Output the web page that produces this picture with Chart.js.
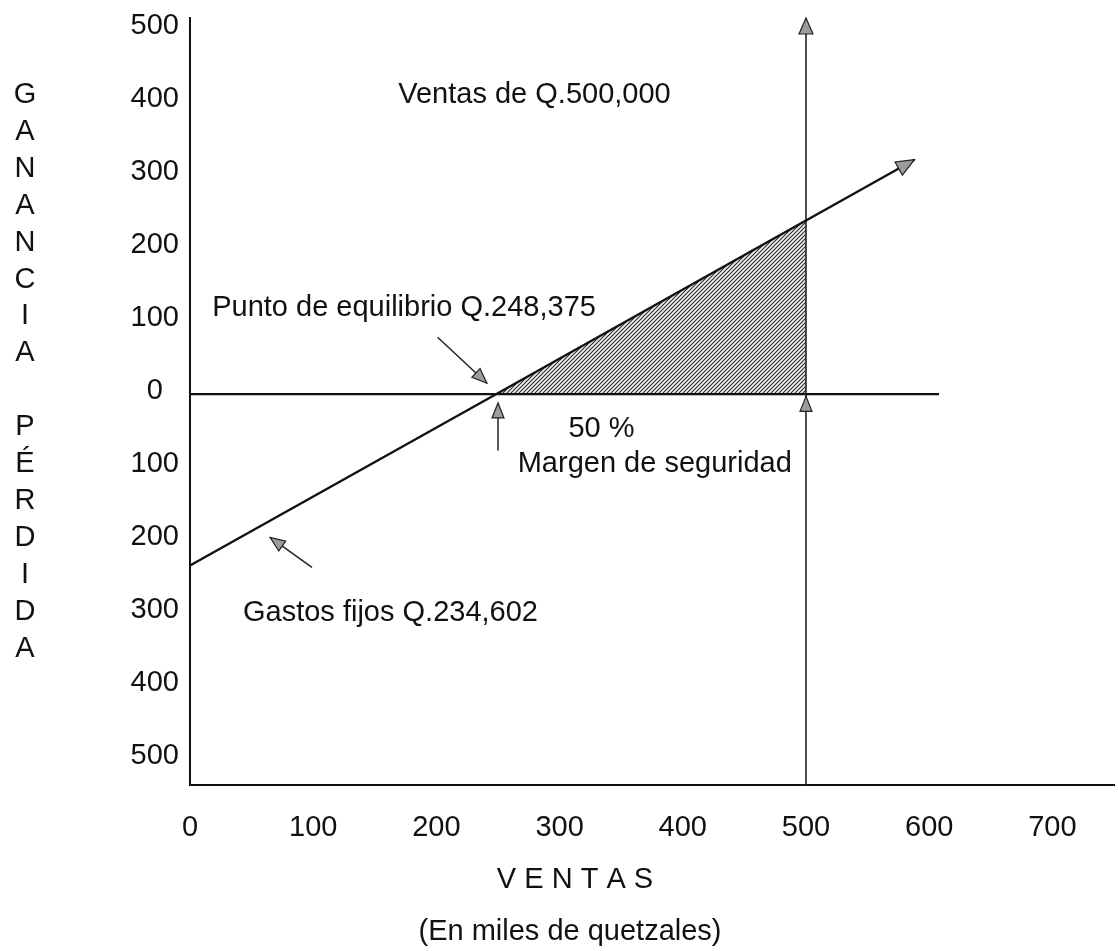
<!DOCTYPE html>
<html lang="es">
<head>
<meta charset="utf-8">
<title>Punto de equilibrio</title>
<script src="https://cdn.jsdelivr.net/npm/chart.js@4.4.1/dist/chart.umd.min.js"></script>
<style>
  html, body { margin: 0; padding: 0; background: #fff; }
  .chart-box { position: relative; width: 1118px; height: 951px; }
</style>
</head>
<body>
<div class="chart-box"><canvas id="breakEvenChart"></canvas></div>
<script>
// Valores en miles de quetzales
const xTicks = [0, 100, 200, 300, 400, 500, 600, 700];
const yTicks = [500, 400, 300, 200, 100, 0, -100, -200, -300, -400, -500];

// Recta de ganancia / pérdida
const salesX = [0, 248.375, 500, 588];
const profitY = [-234.602, 0, 237.7, 321];

// Zona sombreada: margen de seguridad
const marginX = [248.375, 500];
const marginY = [0, 237.7];

// Línea de cero y línea de ventas de Q.500,000
const zeroX = [0, 608];
const salesLineX = 500;
const salesLineY = [-535, 515];

const FONT = "'Liberation Sans', Arial, sans-serif";
const INK = '#111';

// Textos y flechas, en unidades de los ejes
const notes = [
  { text: 'Ventas de Q.500,000', x: 169, y: 410, align: 'left' },
  { text: 'Punto de equilibrio Q.248,375', x: 18, y: 118, align: 'left' },
  { text: '50 %', x: 334, y: -47, align: 'center' },
  { text: 'Margen de seguridad', x: 266, y: -95, align: 'left' },
  { text: 'Gastos fijos Q.234,602', x: 43, y: -299, align: 'left' }
];
const pointers = [
  { from: [201, 78], to: [241, 15] },
  { from: [250, -77], to: [250, -12] },
  { from: [99, -237], to: [65, -196] }
];

function toPoints(xs, ys) {
  return xs.map((x, i) => ({ x: x, y: ys[i] }));
}

function hatchPattern() {
  const c = document.createElement('canvas');
  c.width = 4;
  c.height = 4;
  const g = c.getContext('2d');
  g.fillStyle = '#f4f4f4';
  g.fillRect(0, 0, 4, 4);
  g.strokeStyle = '#2e2e2e';
  g.lineWidth = 1.2;
  g.beginPath();
  g.moveTo(-1, 5); g.lineTo(5, -1);
  g.moveTo(-1, 1); g.lineTo(1, -1);
  g.moveTo(3, 5); g.lineTo(5, 3);
  g.stroke();
  return g.createPattern(c, 'repeat');
}

function arrowHead(ctx, x1, y1, x2, y2, len, half) {
  const a = Math.atan2(y2 - y1, x2 - x1);
  ctx.save();
  ctx.translate(x2, y2);
  ctx.rotate(a);
  ctx.beginPath();
  ctx.moveTo(0, 0);
  ctx.lineTo(-len, -half);
  ctx.lineTo(-len, half);
  ctx.closePath();
  ctx.fillStyle = '#9c9c9c';
  ctx.fill();
  ctx.strokeStyle = '#222';
  ctx.lineWidth = 1.2;
  ctx.stroke();
  ctx.restore();
}

const annotations = {
  id: 'annotations',
  afterDatasetsDraw(chart) {
    const { ctx, scales: { x, y } } = chart;
    const px = v => x.getPixelForValue(v);
    const py = v => y.getPixelForValue(v);

    // puntas de flecha de la recta y de la línea de ventas
    const n = salesX.length - 1;
    arrowHead(ctx, px(salesX[n - 1]), py(profitY[n - 1]), px(salesX[n]), py(profitY[n]), 18, 7.5);
    arrowHead(ctx, px(salesLineX), py(0), px(salesLineX), py(salesLineY[1]), 16, 7);
    arrowHead(ctx, px(salesLineX), py(-40), px(salesLineX), py(-3), 15, 6);

    // flechas indicadoras
    pointers.forEach(p => {
      const x1 = px(p.from[0]), y1 = py(p.from[1]);
      const x2 = px(p.to[0]), y2 = py(p.to[1]);
      ctx.save();
      ctx.strokeStyle = '#222';
      ctx.lineWidth = 1.5;
      ctx.beginPath();
      ctx.moveTo(x1, y1);
      ctx.lineTo(x2, y2);
      ctx.stroke();
      ctx.restore();
      arrowHead(ctx, x1, y1, x2, y2, 15, 6);
    });

    ctx.save();
    ctx.fillStyle = INK;
    ctx.font = '29px ' + FONT;
    ctx.textBaseline = 'middle';
    notes.forEach(t => {
      ctx.textAlign = t.align;
      ctx.fillText(t.text, px(t.x), py(t.y));
    });
    ctx.restore();
  },
  afterDraw(chart) {
    const ctx = chart.ctx;
    ctx.save();
    ctx.fillStyle = INK;
    ctx.font = '29px ' + FONT;
    ctx.textAlign = 'center';
    ctx.textBaseline = 'middle';
    // título vertical del eje y
    const letters = 'GANANCIA PÉRDIDA'.split('');
    letters.forEach((ch, i) => {
      if (ch !== ' ') ctx.fillText(ch, 25, 95 + i * 36.9);
    });
    // título del eje x
    ctx.fillText('V E N T A S', 575, 880);
    ctx.fillText('(En miles de quetzales)', 570, 932);
    ctx.restore();
  }
};

document.addEventListener('DOMContentLoaded', function() {
  const ctx = document.getElementById('breakEvenChart').getContext('2d');
  new Chart(ctx, {
    type: 'line',
    data: {
      datasets: [{
        label: 'Margen de seguridad',
        data: toPoints(marginX, marginY),
        borderWidth: 0,
        backgroundColor: hatchPattern(),
        fill: 'origin',
        order: 3
      }, {
        label: 'Cero',
        data: toPoints(zeroX, [0, 0]),
        borderColor: INK,
        borderWidth: 2.2,
        order: 2
      }, {
        label: 'Ventas de Q.500,000',
        data: toPoints([salesLineX, salesLineX], salesLineY),
        borderColor: '#222',
        borderWidth: 1.6,
        order: 1
      }, {
        label: 'Ganancia / pérdida',
        data: toPoints(salesX, profitY),
        borderColor: INK,
        borderWidth: 2.4,
        order: 0
      }]
    },
    options: {
      responsive: true,
      maintainAspectRatio: false,
      animation: false,
      devicePixelRatio: 1,
      layout: { padding: { top: 18, right: 4, left: 0, bottom: 0 } },
      plugins: {
        legend: { display: false },
        tooltip: { enabled: false }
      },
      elements: {
        point: { radius: 0 },
        line: { tension: 0 }
      },
      datasets: { line: { clip: false } },
      scales: {
        x: {
          type: 'linear',
          min: 0,
          max: 750,
          grid: { display: false, drawTicks: false },
          border: { display: true, color: INK, width: 2 },
          ticks: {
            color: INK,
            padding: 26,
            maxRotation: 0,
            font: { family: FONT, size: 29 }
          },
          afterBuildTicks: s => { s.ticks = xTicks.map(v => ({ value: v })); },
          afterFit: s => { s.height = 166; s.paddingLeft = 0; s.paddingRight = 0; }
        },
        y: {
          type: 'linear',
          min: -535,
          max: 515,
          grid: { display: false, drawTicks: false },
          border: { display: true, color: INK, width: 2 },
          ticks: {
            color: INK,
            padding: 11,
            crossAlign: 'center',
            labelOffset: -3,
            font: { family: FONT, size: 29 },
            callback: v => String(Math.abs(v))
          },
          afterBuildTicks: s => { s.ticks = yTicks.map(v => ({ value: v })); },
          afterFit: s => { s.width = 190; s.paddingTop = 0; s.paddingBottom = 0; }
        }
      }
    },
    plugins: [annotations]
  });
});
</script>
</body>
</html>
